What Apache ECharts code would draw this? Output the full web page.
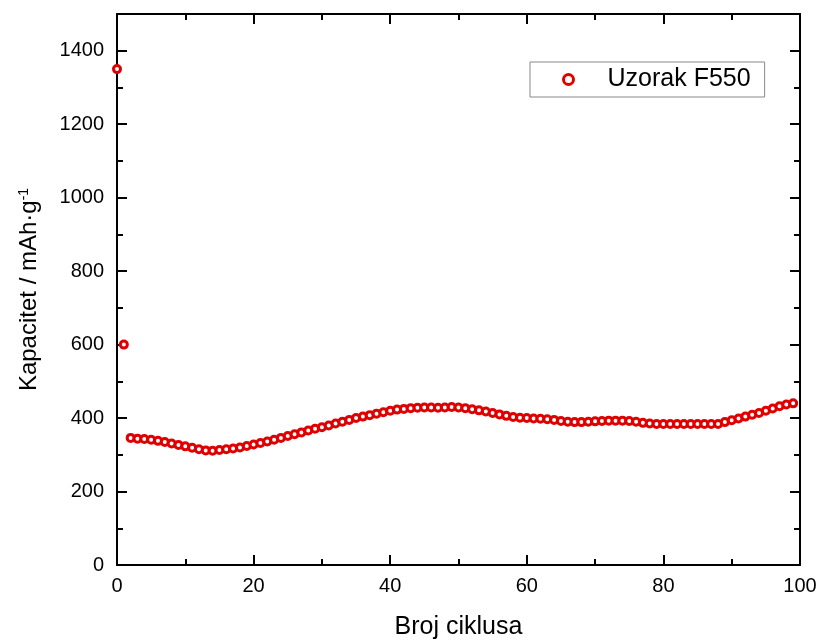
<!DOCTYPE html>
<html><head><meta charset="utf-8">
<script src="https://cdn.jsdelivr.net/npm/echarts@6/dist/echarts.min.js"></script>
<style>html,body{margin:0;padding:0;background:#fff}#c{width:823px;height:640px}</style>
</head><body><div id="c"></div>
<script>
const seriesName = 'Uzorak F550';
const cycles = [0,1,2,3,4,5,6,7,8,9,10,11,12,13,14,15,16,17,18,19,20,21,22,23,24,25,26,27,28,29,30,31,32,33,34,35,36,37,38,39,40,41,42,43,44,45,46,47,48,49,50,51,52,53,54,55,56,57,58,59,60,61,62,63,64,65,66,67,68,69,70,71,72,73,74,75,76,77,78,79,80,81,82,83,84,85,86,87,88,89,90,91,92,93,94,95,96,97,98,99];
const capacity = [1350,600,
346,344,343,341,338,335,331,327,323,
319,315,312,311,313,315,317,320,324,328,
332,336,341,346,351,356,361,366,371,375,
380,385,390,395,400,404,408,412,416,420,
423,425,427,428,429,429,428,429,430,429,
427,424,421,418,414,410,406,403,401,400,
399,398,397,395,392,390,389,389,390,391,
392,393,393,393,392,390,387,385,384,384,
384,384,384,384,384,384,384,384,389,394,
399,404,409,414,420,426,432,437,440];
const xTicks = {min:0, max:100, interval:20};
const yTicks = {min:0, max:1500, interval:200};

const font = '"Liberation Sans", Arial, sans-serif';
const chart = echarts.init(document.getElementById('c'), null, {renderer:'canvas'});
const axisCommon = {
  axisLine:{show:true, onZero:false, lineStyle:{color:'#000', width:2}},
  axisTick:{show:true, inside:true, length:10, lineStyle:{color:'#000', width:2}},
  minorTick:{show:true, splitNumber:2, length:6, lineStyle:{color:'#000', width:2}},
  splitLine:{show:false}
};
chart.setOption({
  animation:false,
  backgroundColor:'#fff',
  grid:{left:117, right:23, top:14, bottom:75, containLabel:false, outerBoundsMode:'none'},
  legend:{
    data:[seriesName], left:530, top:62, orient:'vertical',
    padding:[5,14,5,32], itemWidth:10, itemHeight:10,
    itemStyle:{color:'#ffffff', borderColor:'#e00000', borderWidth:3},
    borderColor:'#888', borderWidth:1, backgroundColor:'#fff',
    textStyle:{fontFamily:font, fontSize:25, color:'#000', padding:[0,0,0,29]}
  },
  xAxis:[
    Object.assign({type:'value', min:xTicks.min, max:xTicks.max, interval:xTicks.interval, position:'bottom',
      name:'Broj ciklusa', nameLocation:'middle', nameGap:50,
      nameTextStyle:{fontFamily:font, fontSize:25, color:'#000'},
      axisLabel:{fontFamily:font, fontSize:20, color:'#000', margin:11}}, axisCommon),
    Object.assign({type:'value', min:xTicks.min, max:xTicks.max, interval:xTicks.interval, position:'top',
      axisLabel:{show:false}}, axisCommon)
  ],
  yAxis:[
    Object.assign({type:'value', min:yTicks.min, max:yTicks.max, interval:yTicks.interval, position:'left',
      name:'Kapacitet / mAh·g{sup|-1}', nameLocation:'middle', nameGap:76, nameRotate:90,
      nameTextStyle:{fontFamily:font, fontSize:24, color:'#000',
        rich:{sup:{fontFamily:font, fontSize:14, color:'#000', verticalAlign:'top', padding:[0,0,10,0]}}},
      axisLabel:{fontFamily:font, fontSize:20, color:'#000', margin:13,
        formatter:function(v){return v>1400?'':String(v);}}}, axisCommon),
    Object.assign({type:'value', min:yTicks.min, max:yTicks.max, interval:yTicks.interval, position:'right',
      axisLabel:{show:false}}, axisCommon)
  ],
  series:[{
    name:seriesName, type:'scatter', xAxisIndex:0, yAxisIndex:0,
    symbol:'circle', symbolSize:7,
    itemStyle:{color:'#ffffff', borderColor:'#e00000', borderWidth:3, opacity:1},
    data:cycles.map((c,i)=>[c, capacity[i]])
  }]
});
</script></body></html>
